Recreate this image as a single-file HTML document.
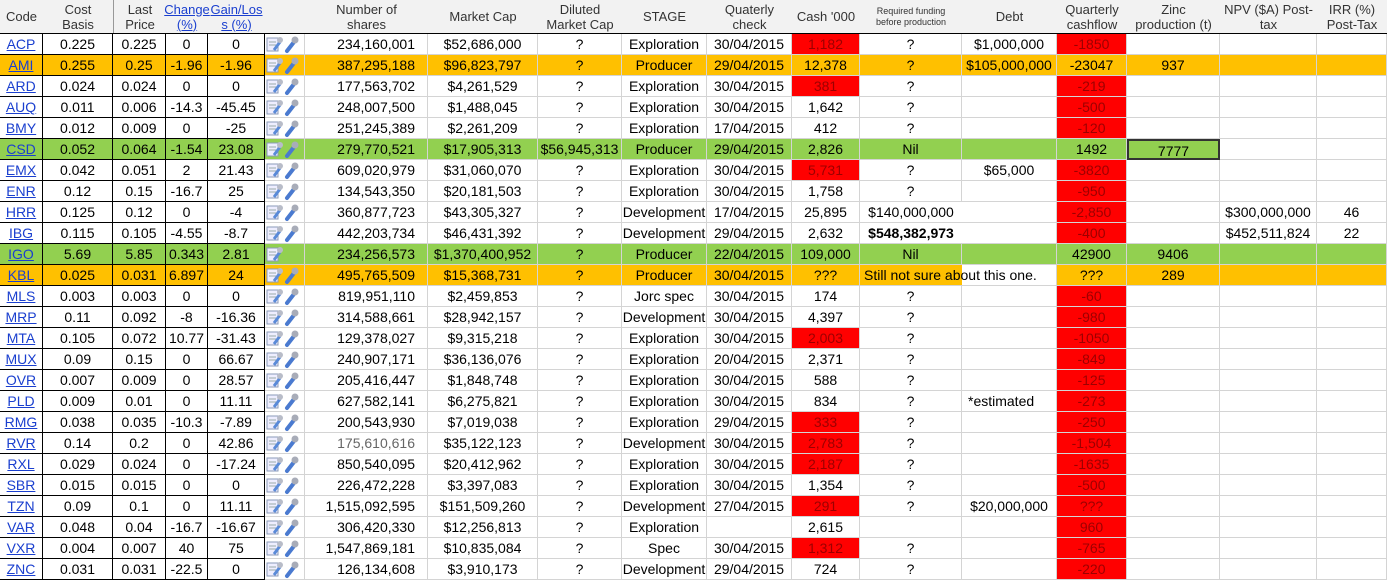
<!DOCTYPE html>
<html><head><meta charset="utf-8"><style>
body{margin:0;width:1387px;height:583px;overflow:hidden;background:#fff;font-family:"Liberation Sans",Arial,sans-serif;font-size:14px;color:#000}
#sheet{position:absolute;left:0;top:0;width:1387px;height:583px}
.c{position:absolute;height:21px;line-height:21px;white-space:nowrap;text-align:center;box-sizing:border-box;border-right:1px solid #d4d4d4;border-bottom:1px solid #d4d4d4;overflow:visible}
.h{position:absolute;top:0;height:33px;font-size:13px;line-height:15px;color:#333;text-align:center;display:flex;align-items:center;justify-content:center;box-sizing:border-box}
.lnk{color:#1a3fcf;text-decoration:underline}
.blk{border-right:1px solid #000;border-bottom:1px solid #000}
.red{background:#ff0000;color:#9c0000}
</style></head><body>
<div id="sheet">
<div style="position:absolute;left:0;top:0;width:1387px;height:33px;background:#f2f2f2;border-bottom:1px solid #000"></div>
</div>
<script>
const cols=[[0,43],[43,113],[113,166],[166,208],[208,265],[265,305],[305,428],[428,538],[538,622],[622,707],[707,792],[792,860],[860,962],[962,1057],[1057,1127],[1127,1220],[1220,1317],[1317,1387]];
const headers=["Code","Cost<br>Basis","Last<br>Price","<span class='lnk'>Change<br>(%)</span>","<span class='lnk'>Gain/Los<br>s (%)</span>","","Number of<br>shares","Market Cap","Diluted<br>Market Cap","STAGE","Quaterly<br>check","Cash '000","<span style='font-size:9px;line-height:11px'>Required funding<br>before production</span>","Debt","Quarterly<br>cashflow","Zinc<br>production (t)","NPV ($A) Post-<br>tax","IRR (%)<br>Post-Tax"];
const headerNames=["code","cost-basis","last-price","change-pct","gain-loss-pct","icons","number-of-shares","market-cap","diluted-market-cap","stage","quarterly-check","cash","required-funding","debt","quarterly-cashflow","zinc-production","npv-post-tax","irr-post-tax"];
const codes=["ACP","AMI","ARD","AUQ","BMY","CSD","EMX","ENR","HRR","IBG","IGO","KBL","MLS","MRP","MTA","MUX","OVR","PLD","RMG","RVR","RXL","SBR","TZN","VAR","VXR","ZNC"];
const cost=["0.225","0.255","0.024","0.011","0.012","0.052","0.042","0.12","0.125","0.115","5.69","0.025","0.003","0.11","0.105","0.09","0.007","0.009","0.038","0.14","0.029","0.015","0.09","0.048","0.004","0.031"];
const last=["0.225","0.25","0.024","0.006","0.009","0.064","0.051","0.15","0.12","0.105","5.85","0.031","0.003","0.092","0.072","0.15","0.009","0.01","0.035","0.2","0.024","0.015","0.1","0.04","0.007","0.031"];
const change=["0","-1.96","0","-14.3","0","-1.54","2","-16.7","0","-4.55","0.343","6.897","0","-8","10.77","0","0","0","-10.3","0","0","0","0","-16.7","40","-22.5"];
const gain=["0","-1.96","0","-45.45","-25","23.08","21.43","25","-4","-8.7","2.81","24","0","-16.36","-31.43","66.67","28.57","11.11","-7.89","42.86","-17.24","0","11.11","-16.67","75","0"];
const shares=["234,160,001","387,295,188","177,563,702","248,007,500","251,245,389","279,770,521","609,020,979","134,543,350","360,877,723","442,203,734","234,256,573","495,765,509","819,951,110","314,588,661","129,378,027","240,907,171","205,416,447","627,582,141","200,543,930","175,610,616","850,540,095","226,472,228","1,515,092,595","306,420,330","1,547,869,181","126,134,608"];
const mcap=["$52,686,000","$96,823,797","$4,261,529","$1,488,045","$2,261,209","$17,905,313","$31,060,070","$20,181,503","$43,305,327","$46,431,392","$1,370,400,952","$15,368,731","$2,459,853","$28,942,157","$9,315,218","$36,136,076","$1,848,748","$6,275,821","$7,019,038","$35,122,123","$20,412,962","$3,397,083","$151,509,260","$12,256,813","$10,835,084","$3,910,173"];
const stage=["Exploration","Producer","Exploration","Exploration","Exploration","Producer","Exploration","Exploration","Development","Development","Producer","Producer","Jorc spec","Development","Exploration","Exploration","Exploration","Exploration","Exploration","Development","Exploration","Exploration","Development","Exploration","Spec","Development"];
const dates=["30/04/2015","29/04/2015","30/04/2015","30/04/2015","17/04/2015","29/04/2015","30/04/2015","30/04/2015","17/04/2015","29/04/2015","22/04/2015","30/04/2015","30/04/2015","30/04/2015","30/04/2015","20/04/2015","30/04/2015","30/04/2015","29/04/2015","30/04/2015","30/04/2015","30/04/2015","27/04/2015","","30/04/2015","29/04/2015"];
const cash=["1,182","12,378","381","1,642","412","2,826","5,731","1,758","25,895","2,632","109,000","???","174","4,397","2,003","2,371","588","834","333","2,783","2,187","1,354","291","2,615","1,312","724"];
const cashRed=[1,0,1,0,0,0,1,0,0,0,0,0,0,0,1,0,0,0,1,1,1,0,1,0,1,0];
const req=["?","?","?","?","?","Nil","?","?","$140,000,000","$548,382,973","Nil","Still not sure about this one.","?","?","?","?","?","?","?","?","?","?","?","","?","?"];
const debt=["$1,000,000","$105,000,000","","","","","$65,000","","","","","","","","","","","*estimated","","","","","$20,000,000","","",""];
const flow=["-1850","-23047","-219","-500","-120","1492","-3820","-950","-2,850","-400","42900","???","-60","-980","-1050","-849","-125","-273","-250","-1,504","-1635","-500","???","960","-765","-220"];
const zinc=["","937","","","","7777","","","","","9406","289","","","","","","","","","","","","","",""];
const npv=["","","","","","","","","$300,000,000","$452,511,824","","","","","","","","","","","","","","","",""];
const irr=["","","","","","","","","46","22","","","","","","","","","","","","","","","",""];
const fills={1:"#ffc000",5:"#92d050",10:"#92d050",11:"#ffc000"};
const sheet=document.getElementById('sheet');
headers.forEach((t,j)=>{const d=document.createElement('div');d.className='h';


d.style.left=cols[j][0]+'px';d.style.width=(cols[j][1]-cols[j][0])+'px';
if(j==2)d.style.borderLeft='1px solid #999';
d.innerHTML=t;sheet.appendChild(d);});
const icon='<svg width="38" height="19" viewBox="0 0 38 19"><rect x="2" y="3" width="11" height="13" fill="#eef" stroke="#8a9ab8"/><line x1="4" y1="7" x2="11" y2="7" stroke="#9aa"/><line x1="4" y1="10" x2="11" y2="10" stroke="#9aa"/><path d="M9 15 L15 7" stroke="#5a8ad8" stroke-width="3"/><circle cx="15" cy="5" r="3" fill="#b8bcc8"/><path d="M22 16 L29 7" stroke="#4a7ad0" stroke-width="4" stroke-linecap="round"/><circle cx="30" cy="5" r="3.5" fill="#a8acb8"/></svg>';
codes.forEach((code,i)=>{
 const top=34+21*i;
 const vals=[code,cost[i],last[i],change[i],gain[i],"",shares[i],mcap[i],(i==5?"$56,945,313":"?"),stage[i],dates[i],cash[i],req[i],debt[i],flow[i],zinc[i],npv[i],irr[i]];
 vals.forEach((v,j)=>{
  const d=document.createElement('div');d.className='c';
  
  
  d.style.left=cols[j][0]+'px';d.style.top=top+'px';d.style.width=(cols[j][1]-cols[j][0])+'px';
  let bg=fills[i]||'#fff';
  if(i==5&&j>=16)bg='#fff';
  if(j==11&&cashRed[i])d.classList.add('red');
  else if(j==14&&!fills[i])d.classList.add('red');
  else d.style.background=bg;
  if(j<=4){d.classList.add('blk');}
  if(j==0){d.innerHTML='<span class="lnk">'+v+'</span>';}
  else if(j==5){d.innerHTML=i==10?icon.replace(/<path d="M22[^>]*>|<circle cx="30"[^>]*>/g,''):icon;d.style.lineHeight='0';d.style.paddingTop='1px';d.style.textAlign='left';}
  else d.textContent=v;
  if(j==6){d.style.textAlign='right';d.style.paddingRight='12px';if(i==19)d.style.color='#666';}
  if(j==12&&(i==8||i==9)){d.style.borderRight='none';d.style.overflow='visible';}
  if(j==12&&i==9)d.style.fontWeight='bold';
  if(j==12&&i==11){d.style.textAlign='left';d.style.paddingLeft='4px';d.style.overflow='visible';d.style.zIndex=2;d.style.borderRight='none';}
  if(j==13&&i==11){d.style.background='transparent';}
  if(j==13&&i==17){d.style.textAlign='left';d.style.paddingLeft='6px';}
  if(j==15&&i==5){d.style.border='2px solid #333';d.style.background='#92d050';}
  sheet.appendChild(d);
 });
});
</script>
</body></html>
